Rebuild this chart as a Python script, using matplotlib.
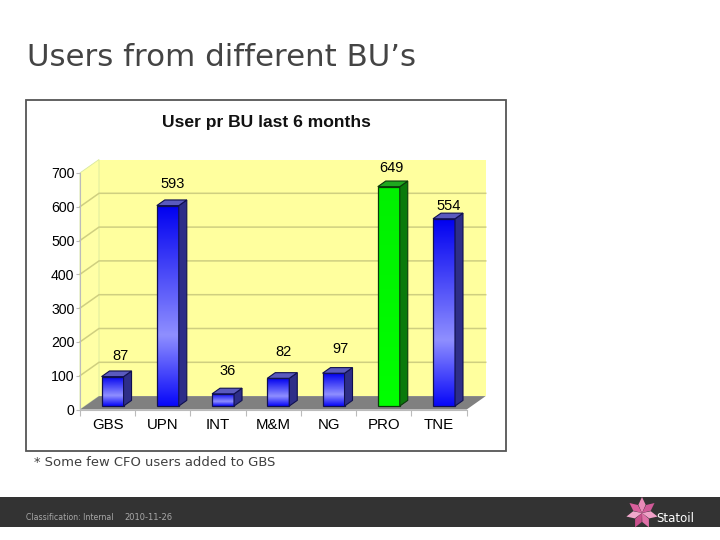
import numpy as np
import matplotlib
matplotlib.use("Agg")
import matplotlib.pyplot as plt
from matplotlib.colors import LinearSegmentedColormap
from matplotlib.patches import Polygon, Rectangle

plt.rcParams['font.family'] = ['Liberation Sans', 'DejaVu Sans']

categories = ["GBS", "UPN", "INT", "M&M", "NG", "PRO", "TNE"]
users = [87, 593, 36, 82, 97, 649, 554]
y_ticks = [0, 100, 200, 300, 400, 500, 600, 700]
label_dx = [12.5, 10, 9.5, 10, 11.5, 8, 9.5]
label_dy = [24, 25, 26, 30, 28, 22, 16]
highlight = "PRO"

W, H = 720, 540
fig = plt.figure(figsize=(7.2, 5.4), dpi=100, facecolor="white")

def px(x, y):
    return x / W, 1 - y / H

def frect(x0, y0, x1, y1, **kw):
    fig.add_artist(Rectangle(px(x0, y1), (x1 - x0) / W, (y1 - y0) / H,
                             transform=fig.transFigure, zorder=-1, **kw))

# slide furniture
fig.text(*px(27, 57), "Users from different BU’s", family="DejaVu Sans", fontsize=22.2,
         color="#444444", va="center", ha="left")
frect(26, 100, 506, 451, facecolor="white", edgecolor="#555555", linewidth=1.3)
fig.text(*px(34, 462), "* Some few CFO users added to GBS", family="DejaVu Sans", fontsize=9.45,
         color="#404040", va="center", ha="left")
frect(0, 497, 720, 527, facecolor="#333333", edgecolor="none")
fig.text(*px(26, 518), "Classification: Internal", family="DejaVu Sans", fontsize=5.6,
         color="#a8a8a8", va="center", ha="left")
fig.text(*px(124, 518), "2010-11-26", family="DejaVu Sans", fontsize=6,
         color="#a8a8a8", va="center", ha="left")
fig.text(*px(656, 519), "Statoil", family="DejaVu Sans", fontsize=8.5, color="white", va="center", ha="left")

# logo star
cx, cy = 642, 513
petal_cols = ["#e88ab8", "#d85f9c", "#f0a8cc", "#c94f8c", "#e070a8", "#f0a0c8", "#d05a98"]
for k, c in enumerate(petal_cols):
    a = np.deg2rad(90 + k * 360 / 7)
    b1, b2 = a - 0.42, a + 0.42
    pts = [(cx, cy),
           (cx + 9 * np.cos(b1), cy - 9 * np.sin(b1)),
           (cx + 16 * np.cos(a), cy - 16 * np.sin(a)),
           (cx + 9 * np.cos(b2), cy - 9 * np.sin(b2))]
    fig.add_artist(Polygon([px(*p) for p in pts], closed=True, transform=fig.transFigure,
                           facecolor=c, edgecolor="none"))

# chart axes: front plane of the 3D box
ax = fig.add_axes([80 / W, 1 - 409.5 / H, (466.7 - 80) / W, (409.5 - 172.9) / H])
ax.patch.set_alpha(0)
ax.set_xlim(-0.5, len(categories) - 0.5)
ax.set_ylim(0, 700)
xmin, xmax, ymax = -0.5, len(categories) - 0.5, 700

DX = 19 / 55.24
DY = 13.4 / 0.338

def poly(pts, z, **kw):
    ax.add_patch(Polygon(pts, closed=True, zorder=z, clip_on=False, **kw))

# walls and floor
poly([(xmin + DX, DY), (xmax + DX, DY), (xmax + DX, ymax + DY), (xmin + DX, ymax + DY)], 1,
     facecolor="#FFFF9E", edgecolor="none")
poly([(xmin, 0), (xmin + DX, DY), (xmin + DX, ymax + DY), (xmin, ymax)], 1,
     facecolor="#FFFFA6", edgecolor="#D8E8A0", linewidth=0.6)
poly([(xmin, 0), (xmax, 0), (xmax + DX, DY), (xmin + DX, DY)], 1,
     facecolor="#808080", edgecolor="none")
for t in y_ticks[1:-1]:
    ax.plot([xmin, xmin + DX, xmax + DX], [t, t + DY, t + DY], color="#CFCF80", lw=1.1,
            zorder=2, clip_on=False, solid_joinstyle="miter")

# bars
blue = LinearSegmentedColormap.from_list(
    "b", [(0, "#0000F0"), (0.65, "#8F8FFF"), (1, "#0808F8")])
green = LinearSegmentedColormap.from_list("g", ["#00F000", "#00FF00"])
grad = np.linspace(0, 1, 128).reshape(-1, 1)
hw = 11 / 55.24
for i, (name, v) in enumerate(zip(categories, users)):
    f0x, f0y = DX * 0.26, DY * 0.26
    f1x, f1y = DX * 0.68, DY * 0.68
    l, r = i + f0x - hw, i + f0x + hw
    b, t = f0y, f0y + v
    is_h = name == highlight
    ax.imshow(grad, cmap=green if is_h else blue, aspect="auto", origin="upper",
              extent=(l, r, b, t), zorder=5 + i, interpolation="bilinear", clip_on=False)
    edge = "#0A3A0A" if is_h else "#101050"
    ax.add_patch(Rectangle((l, b), r - l, t - b, fill=False, edgecolor=edge, lw=0.9, zorder=5.5 + i, clip_on=False))
    sx, sy = f1x - f0x, f1y - f0y
    poly([(r, b), (r + sx, b + sy), (r + sx, t + sy), (r, t)], 5.5 + i,
         facecolor="#0A7A0A" if is_h else "#2E2E88", edgecolor=edge, linewidth=0.8)
    poly([(l, t), (r, t), (r + sx, t + sy), (l + sx, t + sy)], 5.5 + i,
         facecolor="#1FA81F" if is_h else "#5A5ABE", edgecolor=edge, linewidth=0.8)
    ax.annotate(str(v), (i, v), xytext=(label_dx[i] * 0.72, label_dy[i] * 0.72),
                textcoords="offset points", ha="center", va="center", fontsize=10.5,
                color="black", zorder=30, annotation_clip=False)

ax.set_xlim(xmin, xmax)
ax.set_ylim(0, ymax)
ax.set_xticks(np.arange(len(categories) + 1) - 0.5, labels=[""] * (len(categories) + 1))
ax.set_xticks(np.arange(len(categories)), labels=categories, minor=True)
ax.set_yticks(y_ticks)
ax.tick_params(axis="x", which="major", length=4, color="#bbbbbb")
ax.tick_params(axis="x", which="minor", length=0, labelsize=10.8, pad=6, labelcolor="black")
ax.tick_params(axis="y", length=3, color="#bbbbbb", labelsize=10.2, pad=1, labelcolor="black")
for s in ("top", "right"):
    ax.spines[s].set_visible(False)
for s in ("left", "bottom"):
    ax.spines[s].set_color("#bbbbbb")
    ax.spines[s].set_linewidth(0.8)

fig.text(*px(266, 122.5), "User pr BU last 6 months", fontsize=12.6, fontweight="bold",
         color="#111111", ha="center", va="center")

fig.savefig("out.png", dpi=100)
